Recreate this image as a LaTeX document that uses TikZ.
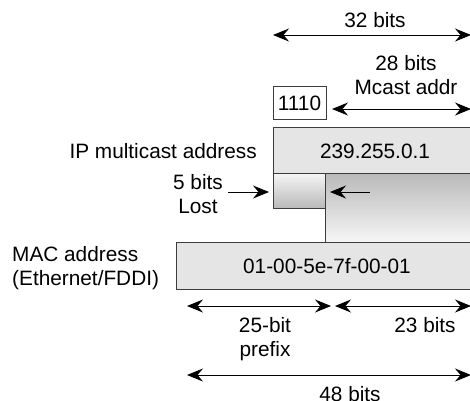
\documentclass[tikz,border=0pt]{standalone}
\usepackage{fontspec}
\setmainfont{Liberation Sans}
\usetikzlibrary{arrows.meta}
\definecolor{boxgray}{RGB}{229,229,229}
\definecolor{edgegray}{RGB}{60,60,60}
\definecolor{dgray}{RGB}{185,185,185}
\definecolor{lgray}{RGB}{246,246,246}
\tikzset{
  lbl/.style={inner sep=0pt, font=\fontsize{20.8}{24.5}\selectfont, text=black},
  dim/.style={line width=1pt, {Stealth[length=16pt,width=13pt,inset=5.5pt]}-{Stealth[length=16pt,width=13pt,inset=5.5pt]}},
  onearrow/.style={line width=1pt, -{Stealth[length=16pt,width=13pt,inset=5.5pt]}},
  fbox/.style={draw=edgegray, line width=0.9pt}
}
\begin{document}
\begin{tikzpicture}[x=1pt,y=-1pt]
\useasboundingbox (0,0) rectangle (470,400);
\clip (0,0) rectangle (470,400);
% gradient region and boxes
\shade[top color=dgray, bottom color=lgray, draw=edgegray, line width=0.9pt] (325,173) rectangle (474,242);
\shade[top color=lgray, bottom color=dgray, draw=edgegray, line width=0.9pt] (273,173) rectangle (325,208);
\path[fbox, fill=boxgray] (273,127) rectangle (474,173);
\path[fbox, fill=boxgray] (176,242) rectangle (474,289);
\path[fbox, fill=white] (273,86) rectangle (326,119);
% texts
\node[lbl, anchor=base] (t32) at (375,27) {32 bits};
\node[lbl, align=center] (t28) at (406,75) {28 bits\\Mcast addr};
\node[lbl, anchor=base] (t1110) at (299.5,110) {1110};
\node[lbl, anchor=base] (tip) at (375,158) {239.255.0.1};
\node[lbl, anchor=base east] (tipl) at (257,158) {IP multicast address};
\node[lbl, align=center] (tlost) at (198,194) {5 bits\\Lost};
\node[lbl, align=left, anchor=west] (tmac) at (12,268) {MAC address\\(Ethernet/FDDI)};
\node[lbl, anchor=base] (tmacv) at (327,273) {01-00-5e-7f-00-01};
\node[lbl, align=center] (t25) at (265,339) {25-bit\\prefix};
\node[lbl, anchor=base] (t23) at (425,332) {23 bits};
\node[lbl, anchor=base] (t48) at (350,401) {48 bits};
% arrow end points
\coordinate (a32l) at (273,35);
\coordinate (a32r) at (471,35);
\coordinate (a28l) at (332,109);
\coordinate (a28r) at (471,109);
\coordinate (lostA) at (228,192);
\coordinate (lostB) at (269,192);
\coordinate (shA) at (370,192);
\coordinate (shB) at (330,192);
\coordinate (p25l) at (187,306);
\coordinate (p25r) at (331,306);
\coordinate (p23l) at (335,306);
\coordinate (p23r) at (471,306);
\coordinate (p48l) at (187,375);
\coordinate (p48r) at (471,375);
% arrows
\draw[dim] (a32l) -- (a32r);
\draw[dim] (a28l) -- (a28r);
\draw[onearrow] (lostA) -- (lostB);
\draw[onearrow] (shA) -- (shB);
\draw[dim] (p25l) -- (p25r);
\draw[dim] (p23l) -- (p23r);
\draw[dim] (p48l) -- (p48r);
\end{tikzpicture}
\end{document}
